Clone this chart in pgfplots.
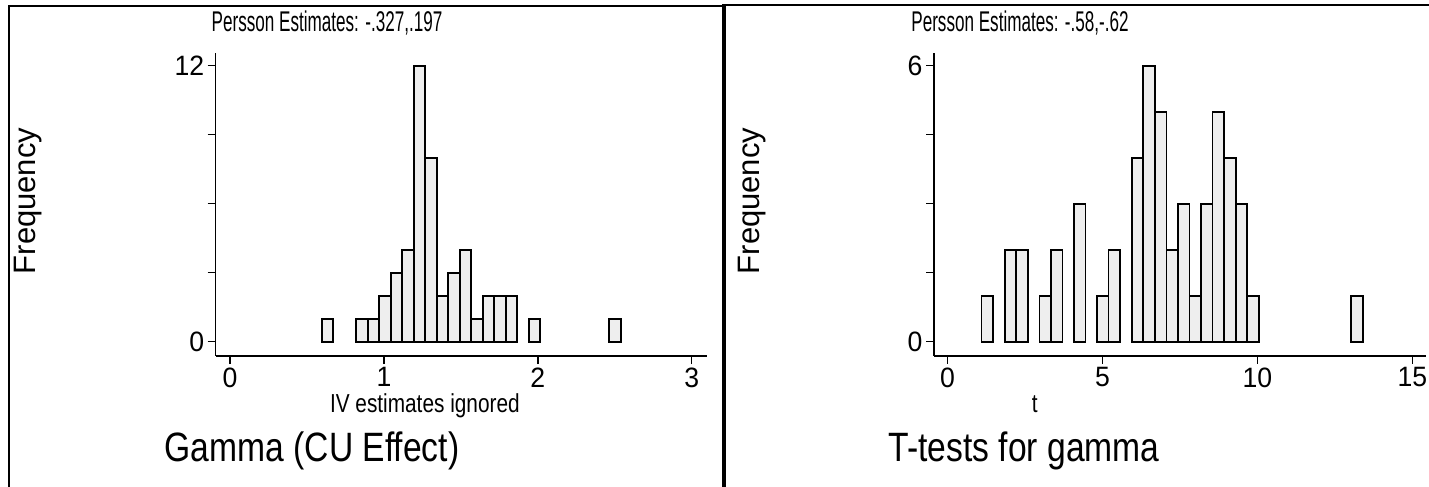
\documentclass[border=0pt]{standalone}
\usepackage{fontspec}
\setmainfont{Liberation Sans}
\newfontfamily\fTick{Liberation Sans}[FakeStretch=0.95]
\newfontfamily\fPer{Liberation Sans}[FakeStretch=0.6]
\newfontfamily\fTitle{Liberation Sans}[FakeStretch=0.82]
\newfontfamily\fLab{Liberation Sans}[FakeStretch=0.8]
\usepackage{pgfplots}
\pgfplotsset{compat=1.18}
\definecolor{barfill}{HTML}{EEEEEE}
\pgfplotsset{statahist/.style={
  scale only axis, axis x line*=bottom, axis y line*=left,
  axis line style={line width=1.4pt},
  tick style={line width=1.4pt, black},
  major tick length=8pt, tick align=outside,
  /pgf/number format/assume math mode=true,
  tick label style={font=\fTick\fontsize{28}{28}\selectfont},
  xlabel style={font=\fLab\fontsize{26}{26}\selectfont, anchor=base},
  ylabel style={font=\fontsize{31}{31}\selectfont, anchor=center},
  ybar, bar shift=0pt,
}}
\begin{document}
\begin{tikzpicture}
\useasboundingbox (0,0) rectangle (1429pt,487pt);
% panel frames
\draw[line width=2pt] (9pt,0pt) -- (9pt,480.5pt) -- (724pt,480.5pt);
\draw[line width=4pt] (724pt,0pt) -- (724pt,483pt);
\draw[line width=2pt] (722pt,482pt) -- (1429pt,482pt);
% left histogram
\begin{axis}[statahist,
  at={(215.7pt,131pt)}, anchor=south west,
  width=491pt, height=302.7pt,
  xmin=-0.093, xmax=3.097, ymin=-0.62, ymax=12.54,
  xtick={0,1,2,3}, ytick={0,3,6,9,12}, yticklabels={0,,,,12},
  bar width=0.0747,
  xlabel={IV estimates ignored},
  xlabel style={at={(axis description cs:0.426,-0.188)}},
  ylabel={Frequency},
  ylabel style={at={(axis description cs:-0.383,0.512)}},
]
\addplot[ybar, fill=barfill, draw=black, line width=1.7pt] coordinates {
(0.633,1) (0.857,1) (0.932,1) (1.007,2) (1.082,3) (1.156,4)
(1.231,12) (1.306,8) (1.380,2) (1.455,3) (1.530,4) (1.604,1)
(1.679,2) (1.754,2) (1.828,2) (1.978,1) (2.501,1)};
\end{axis}
% right histogram
\begin{axis}[statahist,
  at={(934pt,131pt)}, anchor=south west,
  width=492pt, height=302.7pt,
  xmin=-0.44, xmax=15.44, ymin=-0.31, ymax=6.27,
  xtick={0,5,10,15}, ytick={0,1.5,3,4.5,6}, yticklabels={0,,,,6},
  bar width=0.3727,
  xlabel={t},
  xlabel style={at={(axis description cs:0.205,-0.188)}},
  ylabel={Frequency},
  ylabel style={at={(axis description cs:-0.37,0.512)}},
]
\addplot[ybar, fill=barfill, draw=black, line width=1.7pt] coordinates {
(1.283,1) (2.029,2) (2.401,2) (3.147,1) (3.519,2) (4.265,3)
(5.010,1) (5.383,2) (6.128,4) (6.501,6) (6.874,5) (7.246,2)
(7.619,3) (7.992,1) (8.364,3) (8.737,5) (9.110,4) (9.483,3)
(9.855,1) (13.209,1)};
\end{axis}
% titles
\node[anchor=base, inner sep=0pt, font=\fPer\fontsize{28.5}{28.5}\selectfont] at (327pt,455pt) {Persson Estimates: -.327,.197};
\node[anchor=base, inner sep=0pt, font=\fPer\fontsize{28.5}{28.5}\selectfont] at (1020pt,455pt) {Persson Estimates: -.58,-.62};
\node[anchor=base, inner sep=0pt, font=\fTitle\fontsize{41}{41}\selectfont] at (312pt,25pt) {Gamma (CU Effect)};
\node[anchor=base, inner sep=0pt, font=\fTitle\fontsize{41}{41}\selectfont] at (1024pt,25pt) {T-tests for gamma};
\end{tikzpicture}
\end{document}
